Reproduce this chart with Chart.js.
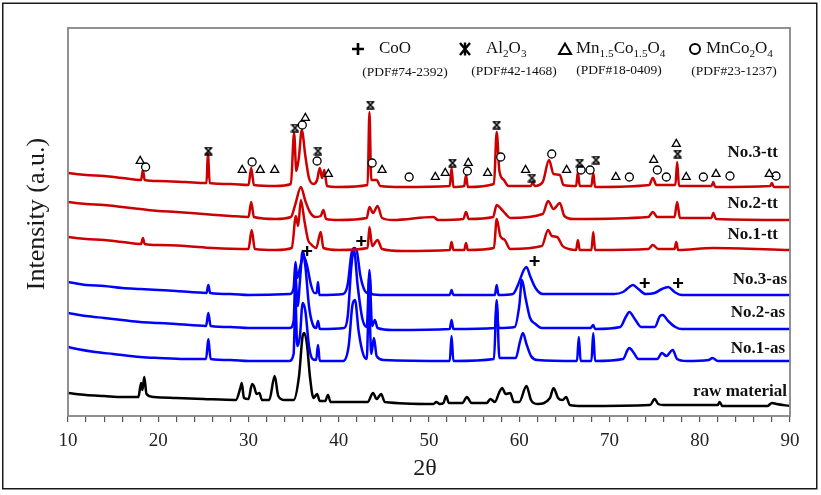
<!DOCTYPE html>
<html><head><meta charset="utf-8">
<script src="https://cdn.jsdelivr.net/npm/chart.js@4/dist/chart.umd.min.js"></script>
<style>html,body{margin:0;padding:0;background:#fff}</style>
</head><body>
<canvas id="c" width="821" height="495" style="display:block;width:821px;height:495px"></canvas>
<script>
// ---- data: [2theta, intensity (a.u., stacked offset included)] ----
const rawMaterial = [[10,23],[12,21],[14,20],[16,19],[17.8,19],[18.1,33],[18.25,26],[18.45,39],[18.7,22],[19.5,19],[22,18],[25,17],[28.6,16],[29.1,28],[29.25,33],[29.5,18],[30,17],[30.4,32],[30.6,30],[30.9,22],[31.2,23],[31.5,16],[32.3,16],[32.9,40],[33.3,20],[34,16],[35.0,16],[35.6,40],[36.0,80],[36.2,83],[36.5,70],[36.8,40],[37.2,18],[37.6,22],[37.9,15],[38.5,15],[38.8,21],[39.1,14],[43.2,14],[43.8,23],[44.2,17],[44.7,22],[45.1,14],[50.5,12],[50.8,14],[51.2,12],[51.6,13],[51.9,20],[52.2,13],[53.7,13],[54.2,19],[54.7,13],[56.4,13],[56.8,17],[57.3,14],[57.8,24],[58.1,28],[58.5,22],[59.0,23],[59.4,14],[60,14],[60.8,30],[61.3,16],[62,12],[63.4,18],[63.8,28],[64.3,18],[64.8,16],[65.2,19],[65.6,11],[67,10],[74.5,11],[75.0,17],[75.4,12],[76,11],[82,11],[82.2,14],[82.5,10],[87.5,10],[88.0,13],[88.5,12],[90,10]];
const no1as = [[10,69],[11,67],[13,64],[15,62],[18,59],[20,58],[23,57],[25.3,57],[25.55,77],[25.8,57],[28,56],[30,55],[34.5,55],[35.0,62],[35.2,116],[35.4,70],[35.7,80],[36.0,113],[36.3,105],[36.7,70],[37.1,57],[37.5,56],[37.7,71],[37.9,55],[40.5,55],[41.1,70],[41.5,110],[41.8,116],[42.2,85],[42.7,62],[43.1,57],[43.35,116],[43.6,62],[43.9,78],[44.2,60],[45,56],[52.3,55],[52.5,80],[52.7,55],[57.2,57],[57.5,116],[57.8,58],[59.6,58],[60.1,75],[60.4,83],[60.8,72],[61.3,60],[62,56],[66.4,55],[66.6,79],[66.8,55],[68.0,55],[68.2,83],[68.4,55],[71.5,57],[72.0,66],[72.2,68],[72.7,63],[73.2,57],[75.3,57],[75.8,63],[76.3,60],[77.0,66],[77.5,57],[78.5,55],[81,56],[81.4,58],[82,55],[90,55]];
const no2as = [[10,103],[12,100],[14,98],[16,96],[18,94],[20,93],[22,92],[25.3,90],[25.55,103],[25.8,90],[28,89],[30,88],[34.6,88],[35.0,95],[35.2,140],[35.45,110],[35.7,135],[36.0,165],[36.3,150],[36.7,110],[37.1,92],[37.5,88],[37.7,95],[37.9,87],[40.6,88],[41.0,100],[41.4,150],[41.7,165],[42.1,130],[42.6,98],[43.1,89],[43.4,141],[43.7,90],[44.0,96],[44.3,88],[46,86],[52.3,87],[52.5,96],[52.7,87],[57.3,88],[57.5,111],[57.7,88],[59.5,89],[60.0,110],[60.3,136],[60.7,118],[61.2,98],[61.8,92],[62.5,88],[67.9,88],[68.2,91],[68.4,87],[71.2,89],[71.8,99],[72.2,104],[72.8,97],[73.5,89],[75.0,89],[75.6,100],[75.9,101],[76.5,95],[77.3,89],[78,87],[90,87]];
const no3as = [[10,134],[12,131],[14,130],[16,128],[18,127],[20,126],[22,125],[25.35,123],[25.55,131],[25.75,123],[28,122],[30,121],[34.6,122],[35.0,128],[35.2,154],[35.4,138],[35.7,148],[36.1,160],[36.5,150],[36.9,132],[37.3,123],[37.55,123],[37.7,134],[37.85,121],[40.5,122],[41.0,132],[41.4,162],[41.7,168],[42.0,165],[42.4,140],[42.9,125],[43.25,123],[43.4,146],[43.6,122],[45,121],[52.3,121],[52.5,126],[52.7,121],[57.3,121],[57.5,131],[57.7,121],[59.3,122],[59.9,132],[60.5,146],[60.8,149],[61.2,140],[61.8,128],[62.6,122],[70.5,122],[71.5,124],[72.2,129],[72.6,131],[73.2,127],[74,122],[75,123],[75.8,127],[76.5,129],[77.2,124],[78,121],[90,121]];
const no1tt = [[10,179],[12,177],[14,176],[16,174],[18.1,172],[18.3,178],[18.5,172],[20,171],[23,170],[26,168],[30.0,167],[30.35,186],[30.7,167],[33,166],[34.8,168],[35.25,200],[35.5,190],[35.8,216],[36.2,195],[36.6,176],[36.9,172],[37.5,168],[38.0,184],[38.3,168],[40,166],[43.2,168],[43.4,189],[43.7,170],[44.3,176],[44.8,167],[47,165],[52.3,166],[52.5,174],[52.7,166],[53.9,166],[54.1,173],[54.3,166],[57.2,168],[57.5,197],[57.9,180],[58.4,176],[59,167],[62.5,170],[63.2,186],[63.6,180],[64.2,179],[64.8,170],[65.5,167],[66.3,166],[66.5,176],[66.7,166],[68.0,166],[68.2,184],[68.4,166],[74.3,167],[74.8,171],[75.4,167],[77.2,167],[77.4,174],[77.6,166],[81.5,168],[90,166]];
const no2tt = [[10,214],[12,212],[14,211],[16,209],[18,207],[20,205],[22,204],[25,202],[28,200],[30.0,199],[30.3,214],[30.6,199],[33,197],[34.7,199],[35.2,212],[35.8,229],[36.3,215],[36.8,204],[37.4,199],[38.0,200],[38.3,206],[38.6,197],[40,196],[43.1,198],[43.4,209],[43.8,203],[44.3,210],[44.8,198],[46,196],[50.5,199],[51,196],[53.8,197],[54.1,204],[54.4,197],[57.1,199],[57.5,211],[58,207],[58.5,202],[59,198],[62.6,202],[63.2,215],[63.8,207],[64.5,213],[65,200],[66,197],[74.3,199],[74.8,204],[75.3,199],[77.2,199],[77.5,214],[77.8,198],[81.3,198],[81.5,203],[81.8,197],[90,196]];
const no3tt = [[10,243],[12,241],[14,240],[16,238],[18.1,236],[18.3,246],[18.5,236],[20,235],[23,234],[25.35,233],[25.5,263],[25.7,233],[28,232],[30.0,231],[30.3,248],[30.6,231],[33,230],[34.7,232],[35.05,283],[35.3,245],[35.6,260],[35.9,286],[36.3,260],[36.7,238],[37.2,232],[37.6,236],[37.9,248],[38.15,238],[38.4,246],[38.7,230],[40,229],[43.2,231],[43.4,304],[43.6,236],[44.2,236],[44.6,230],[47,229],[52.3,230],[52.5,248],[52.7,229],[53.9,230],[54.1,241],[54.3,229],[57.2,232],[57.5,284],[57.8,245],[58.3,236],[58.8,230],[61.3,230],[61.5,234],[61.7,230],[62.6,234],[63.3,256],[63.8,242],[64.5,241],[64.9,231],[66.3,230],[66.5,244],[66.7,230],[68.0,230],[68.2,243],[68.4,229],[74.4,231],[74.8,238],[75.2,231],[77.3,231],[77.5,254],[77.7,230],[81.3,230],[81.5,234],[81.7,229],[87.8,230],[88.0,233],[88.2,229],[90,229]];

// phase markers [2theta, height]
const markCoO = [[36.5,165],[42.5,175],[61.7,155],[73.9,133],[77.6,133]];
const markAl2O3 = [[25.55,265],[35.15,288],[37.7,265],[43.5,311],[52.6,253],[57.5,291],[61.4,238],[66.7,253],[68.5,256],[77.55,262]];
const markMn15 = [[18.0,255],[29.3,246],[31.3,246],[32.9,246],[36.3,298],[38.85,242],[44.8,246],[50.7,239],[51.8,243],[54.35,253],[56.5,243],[60.7,246],[65.25,246],[70.7,239],[74.9,256],[77.4,272],[78.5,239],[81.8,242],[87.7,242]];
const markMnCo2 = [[18.6,249],[30.4,254],[35.96,291],[37.6,255],[43.7,253],[47.8,239],[54.25,245],[57.95,259],[63.6,262],[66.85,246],[67.85,246],[72.2,239],[75.3,246],[76.3,239],[80.4,239],[83.35,240],[88.45,240]];

const seriesNames = ['No.3-tt','No.2-tt','No.1-tt','No.3-as','No.2-as','No.1-as','raw material'];
const xTickValues = [10,20,30,40,50,60,70,80,90];

const RED = '#cc0000', BLUE = '#0000ff', BLACK = '#000000';
const toXY = a => a.map(p => ({x:p[0], y:p[1]}));
const SERIF = '"Liberation Serif", "Times New Roman", serif';

// hourglass-x symbol used for Al2O3 in the plot
function makeAlSymbol(){
  const c = document.createElement('canvas'); c.width = 9; c.height = 9;
  const g = c.getContext('2d'); g.strokeStyle = '#000'; g.lineWidth = 1.7;
  g.beginPath(); g.moveTo(1,1); g.lineTo(8,8); g.moveTo(8,1); g.lineTo(1,8);
  g.moveTo(0.5,1); g.lineTo(8.5,1); g.moveTo(0.5,8); g.lineTo(8.5,8); g.stroke();
  return c;
}
const alSym = makeAlSymbol();

function lineDs(label, data, color){
  return {type:'line', label, data:toXY(data), borderColor:color, borderWidth:2.5, pointRadius:0,
    cubicInterpolationMode:'monotone', fill:false, order:1, borderJoinStyle:'round'};
}
function markDs(label, data, style, r, bw){
  return {type:'scatter', label, data:toXY(data), showLine:false, pointStyle:style, pointRadius:r, pointHoverRadius:r,
    pointBorderWidth:bw, pointBorderColor:'#000', pointBackgroundColor:'#fff', order:-1};
}

function drawSubText(ctx, parts, x, y, size){
  let cx = x;
  for (const [t, sub] of parts){
    ctx.font = (sub ? size*0.66 : size) + 'px ' + SERIF;
    ctx.fillText(t, cx, sub ? y + size*0.28 : y);
    cx += ctx.measureText(t).width;
  }
}

const decor = {
  id:'decor',
  beforeDraw(chart){
    const ctx = chart.ctx; ctx.save(); ctx.fillStyle='#fff'; ctx.fillRect(0,0,chart.width,chart.height); ctx.restore();
  },
  afterDraw(chart){
    const ctx = chart.ctx, a = chart.chartArea;
    ctx.save();
    // plot frame
    ctx.strokeStyle = '#858585'; ctx.lineWidth = 1.8;
    ctx.strokeRect(a.left, a.top, a.right - a.left, a.bottom - a.top);
    // outer border
    ctx.strokeStyle = '#1a1a1a'; ctx.lineWidth = 1.5;
    ctx.strokeRect(2.75, 3.25, 814, 485.5);
    // axis titles
    ctx.fillStyle = '#1a1a1a'; ctx.textBaseline = 'middle'; ctx.textAlign = 'center';
    ctx.font = '24px ' + SERIF;
    ctx.fillText('2\u03b8', (a.left + a.right)/2 - 4, 469);
    ctx.font = '26px ' + SERIF;
    ctx.save(); ctx.translate(37, 214); ctx.rotate(-Math.PI/2);
    ctx.fillText('Intensity (a.u.)', 0, 0); ctx.restore();
    // series labels
    ctx.font = 'bold 17px ' + SERIF; ctx.textAlign = 'right'; ctx.fillStyle = '#111';
    const lp = [[778,153],[778,204],[778,235],[787,280],[785,313],[785,349],[787,392]];
    seriesNames.forEach((n,i) => ctx.fillText(n, lp[i][0], lp[i][1]));
    // legend
    ctx.textAlign = 'left'; ctx.fillStyle = '#111';
    ctx.strokeStyle = '#000';
    ctx.lineWidth = 2.6; ctx.beginPath(); ctx.moveTo(352,49); ctx.lineTo(364,49); ctx.moveTo(358,43); ctx.lineTo(358,55); ctx.stroke();
    drawSubText(ctx, [['CoO',0]], 379, 49, 17);
    ctx.lineWidth = 2.4; ctx.beginPath();
    ctx.moveTo(460,43); ctx.lineTo(470,55); ctx.moveTo(470,43); ctx.lineTo(460,55); ctx.moveTo(465,42.5); ctx.lineTo(465,55.5); ctx.stroke();
    drawSubText(ctx, [['Al',0],['2',1],['O',0],['3',1]], 486, 49, 17);
    ctx.lineWidth = 2; ctx.beginPath(); ctx.moveTo(565,43.5); ctx.lineTo(571,54); ctx.lineTo(559,54); ctx.closePath(); ctx.stroke();
    drawSubText(ctx, [['Mn',0],['1.5',1],['Co',0],['1.5',1],['O',0],['4',1]], 576, 49, 17);
    ctx.beginPath(); ctx.arc(695,49,5,0,Math.PI*2); ctx.stroke();
    drawSubText(ctx, [['MnCo',0],['2',1],['O',0],['4',1]], 706, 49, 17);
    ctx.font = '13.5px ' + SERIF; ctx.textAlign = 'center';
    ctx.fillText('(PDF#74-2392)', 405, 72);
    ctx.fillText('(PDF#42-1468)', 514, 71);
    ctx.fillText('(PDF#18-0409)', 619, 70);
    ctx.fillText('(PDF#23-1237)', 734, 71);
    ctx.restore();
  }
};

new Chart(document.getElementById('c'), {
  type:'line',
  data:{datasets:[
    markDs('CoO', markCoO, 'cross', 5, 2.2),
    markDs('Al2O3', markAl2O3, alSym, 4.5, 1),
    markDs('Mn1.5Co1.5O4', markMn15, 'triangle', 4.6, 1.3),
    markDs('MnCo2O4', markMnCo2, 'circle', 4, 1.3),
    lineDs('No.3-tt', no3tt, RED),
    lineDs('No.2-tt', no2tt, RED),
    lineDs('No.1-tt', no1tt, RED),
    lineDs('No.3-as', no3as, BLUE),
    lineDs('No.2-as', no2as, BLUE),
    lineDs('No.1-as', no1as, BLUE),
    lineDs('raw material', rawMaterial, BLACK)
  ]},
  options:{
    responsive:false, animation:false, devicePixelRatio:1,
    layout:{padding:{left:68, right:31, top:28, bottom:0}},
    plugins:{legend:{display:false}, tooltip:{enabled:false}},
    scales:{
      x:{type:'linear', min:10, max:90,
        afterFit(s){ s.height = 79; },
        ticks:{stepSize:2, autoSkip:false, maxRotation:0, color:'#222', padding:8,
          font:{family:SERIF, size:19},
          callback:v => xTickValues.includes(v) ? String(v) : ''},
        grid:{drawOnChartArea:false, drawTicks:true, tickLength:6, color:'#555', lineWidth:1.2},
        border:{display:false}},
      y:{display:false, min:0, max:388}
    }
  },
  plugins:[decor]
});
</script>
</body></html>
